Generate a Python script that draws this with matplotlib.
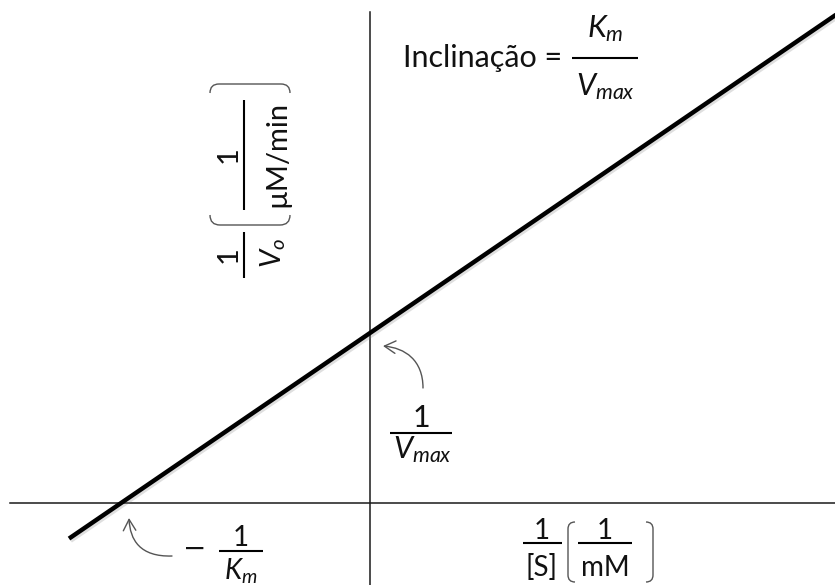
import matplotlib
matplotlib.use("Agg")
import matplotlib.pyplot as plt
import matplotlib.patheffects as pe
import numpy as np
from matplotlib.path import Path
from matplotlib.patches import PathPatch, FancyArrowPatch

plt.rcParams["font.family"] = ["Lato", "DejaVu Sans"]
plt.rcParams["mathtext.fontset"] = "custom"
plt.rcParams["mathtext.rm"] = "Lato"
plt.rcParams["mathtext.it"] = "Lato:italic"

# Lineweaver-Burk line (schematic units)
inv_vmax = 1.70            # y intercept, 1/Vmax
km_over_vmax = 0.683       # slope, Km/Vmax
inv_s = np.array([-3.01, 4.80])   # 1/[S] span of the drawn line
x_lim = (-3.70, 4.65)
y_lim = (-0.82, 5.03)
y_axis_top = 4.91
x_axis_left = -3.60

inv_v = inv_vmax + km_over_vmax * inv_s

fig = plt.figure(figsize=(8.35, 5.85), dpi=100)
ax = fig.add_axes([0, 0, 1, 1])
ax.set_xlim(*x_lim)
ax.set_ylim(*y_lim)
ax.axis("off")


def P(x, y):
    # image pixel -> data coords (origin where the axes cross)
    return ((x - 370) / 100.0, (503 - y) / 100.0)


def txt(x, y, s, size, ha="center", va="baseline", **kw):
    ax.text(*P(x, y), s, fontsize=size, ha=ha, va=va, color="#111111", **kw)


def bar(x0, y0, x1, y1, lw=1.5):
    a, b = P(x0, y0), P(x1, y1)
    ax.plot([a[0], b[0]], [a[1], b[1]], color="black", lw=lw, solid_capstyle="butt")


def paren(A, B, n, c):
    A = np.array(A, float)
    B = np.array(B, float)
    n = np.array(n, float)
    u = (B - A) / np.linalg.norm(B - A)
    pts = [A + n * c, A, A + u * c, B - u * c, B, B + n * c]
    codes = [Path.MOVETO, Path.CURVE3, Path.CURVE3, Path.LINETO, Path.CURVE3, Path.CURVE3]
    ax.add_patch(PathPatch(Path([P(*p) for p in pts], codes), fill=False,
                           edgecolor="#555555", lw=1.0))


def curved_arrow(pts):
    path = Path([P(*p) for p in pts], [Path.MOVETO, Path.CURVE4, Path.CURVE4, Path.CURVE4])
    ax.add_patch(FancyArrowPatch(path=path, arrowstyle="->,head_length=0.8,head_width=0.45",
                                 mutation_scale=10, color="#555555", lw=1.0))


# axes
ax.plot([0, 0], [y_lim[0], y_axis_top], color="#1a1a1a", lw=1.1)
ax.plot([x_axis_left, x_lim[1]], [0, 0], color="#1a1a1a", lw=1.1)

# the line
ax.plot(inv_s, inv_v, color="black", lw=3.2, solid_capstyle="butt",
        path_effects=[pe.SimpleLineShadow(offset=(1.2, -1.5), alpha=0.25, shadow_color="gray"),
                      pe.Normal()])

# slope label
txt(403, 67, "Inclinação =", 22, ha="left")
bar(572, 58, 638, 58)
txt(605, 37, r"$K_m$", 22)
txt(605, 95, r"$V_{max}$", 22)

# 1/Vmax
curved_arrow([(423, 388), (423, 360), (405, 348), (383, 346)])
bar(390, 433, 452, 433)
txt(421, 427, "1", 22)
txt(422, 458, r"$V_{max}$", 22)

# -1/Km
curved_arrow([(172, 556), (140, 557), (130, 540), (129, 518)])
txt(195, 557, "\u2212", 20, family=["DejaVu Sans"])
bar(219, 551, 263, 551)
txt(241, 546, "1", 20)
txt(241, 580, r"$K_m$", 20)

# x label
bar(523, 543, 562, 543)
txt(542, 539, "1", 20)
txt(542, 576, "[S]", 20)
paren((568, 522), (568, 582), (1, 0), 7)
bar(578, 543, 632, 543)
txt(605, 539, "1", 20)
txt(605, 576, "mM", 20)
paren((653, 522), (653, 582), (-1, 0), 7)

# y label (rotated)
rot = dict(rotation=90, rotation_mode="anchor")
txt(237, 255, "1", 21, **rot)
bar(244, 232, 244, 278)
txt(281, 253, r"$V_o$", 21, **rot)
paren((210, 225), (290, 225), (0, -1), 10)
txt(237, 155, "1", 21, **rot)
bar(244, 100, 244, 210)
txt(285, 154, "µM/min", 21, **rot)
paren((210, 84), (290, 84), (0, 1), 9)

fig.savefig("out.png", dpi=100)
